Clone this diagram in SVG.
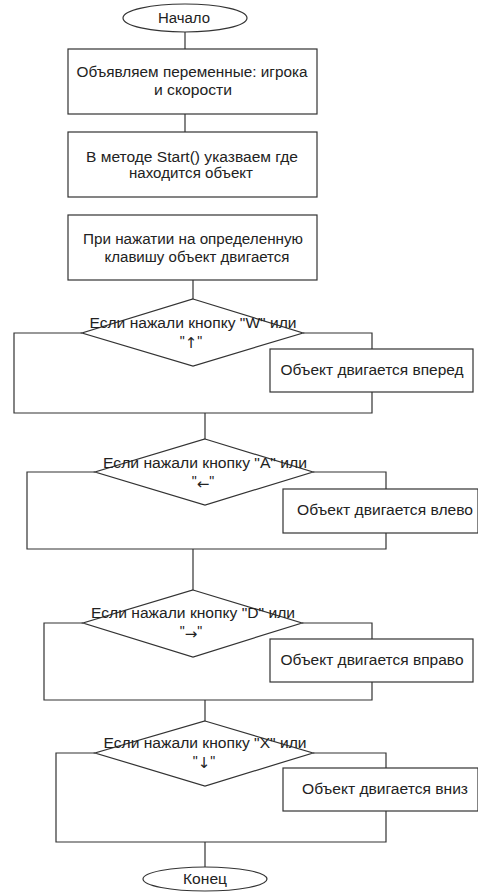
<svg xmlns="http://www.w3.org/2000/svg" width="478" height="892" viewBox="0 0 478 892">
<style>
.s{fill:#fff;stroke:#333;stroke-width:1.2}
.c{fill:none;stroke:#333;stroke-width:1.2}
text{font-family:"Liberation Sans",Arial,sans-serif;font-size:14px;fill:#222;text-anchor:middle}
.ar{font-family:"DejaVu Sans",sans-serif;font-size:15px}
</style>
<rect width="478" height="892" fill="#fff"/>
<g id="connectors">
<path class="c" d="M185 32V49"/>
<path class="c" d="M185 114V132"/>
<path class="c" d="M193 280V299"/>
<path class="c" d="M82 333H14V413H372V392 M303 333H372V349"/>
<path class="c" d="M205 413V439"/>
<path class="c" d="M95 472H27V549H386V533 M313 472H386V489"/>
<path class="c" d="M193 549V590"/>
<path class="c" d="M83 623H44V700H372V682 M302 623H372V639"/>
<path class="c" d="M205 700V721"/>
<path class="c" d="M95 753H56V842H386V811 M313 753H386V768"/>
<path class="c" d="M205 842V867"/>
</g>
<g id="start">
<ellipse class="s" cx="185" cy="18" rx="62" ry="14"/>
<text x="184" y="23" textLength="52" lengthAdjust="spacingAndGlyphs">Начало</text>
</g>
<g id="box1">
<rect class="s" x="68" y="49" width="249" height="65"/>
<text x="192" y="77" textLength="231" lengthAdjust="spacingAndGlyphs">Объявляем переменные: игрока</text>
<text x="193" y="95" textLength="78" lengthAdjust="spacingAndGlyphs">и скорости</text>
</g>
<g id="box2">
<rect class="s" x="68" y="132" width="249" height="65"/>
<text x="192" y="162" textLength="212" lengthAdjust="spacingAndGlyphs">В методе Start() указваем где</text>
<text x="191" y="178" textLength="124" lengthAdjust="spacingAndGlyphs">находится объект</text>
</g>
<g id="box3">
<rect class="s" x="68" y="215" width="249" height="65"/>
<text x="193" y="244" textLength="220" lengthAdjust="spacingAndGlyphs">При нажатии на определенную</text>
<text x="197" y="262" textLength="185" lengthAdjust="spacingAndGlyphs">клавишу объект двигается</text>
</g>
<g id="dW">
<polygon class="s" points="193,299 303,333 193,366 82,333"/>
<text x="193" y="328" textLength="207" lengthAdjust="spacingAndGlyphs">Если нажали кнопку "W" или</text>
<text x="191" y="346">"<tspan class="ar" dy="2">↑</tspan><tspan dy="-2">"</tspan></text>
</g>
<g id="bW">
<rect class="s" x="270" y="349" width="203" height="43"/>
<text x="372" y="375" textLength="183" lengthAdjust="spacingAndGlyphs">Объект двигается вперед</text>
</g>
<g id="dA">
<polygon class="s" points="205,439 313,472 205,505 95,472"/>
<text x="205" y="468" textLength="204" lengthAdjust="spacingAndGlyphs">Если нажали кнопку "A" или</text>
<text x="203" y="486">"<tspan class="ar" dy="3">←</tspan><tspan dy="-3">"</tspan></text>
</g>
<g id="bA">
<rect class="s" x="283" y="489" width="195" height="44"/>
<text x="385" y="515" textLength="176" lengthAdjust="spacingAndGlyphs">Объект двигается влево</text>
</g>
<g id="dD">
<polygon class="s" points="193,590 302,623 193,657 83,623"/>
<text x="191" y="636">"<tspan class="ar" dy="3">→</tspan><tspan dy="-3">"</tspan></text>
<text x="193" y="618" textLength="204" lengthAdjust="spacingAndGlyphs">Если нажали кнопку "D" или</text>
</g>
<g id="bD">
<rect class="s" x="270" y="639" width="203" height="43"/>
<text x="372" y="665" textLength="183" lengthAdjust="spacingAndGlyphs">Объект двигается вправо</text>
</g>
<g id="dX">
<polygon class="s" points="205,721 313,753 205,786 95,753"/>
<text x="205" y="748" textLength="203" lengthAdjust="spacingAndGlyphs">Если нажали кнопку "X" или</text>
<text x="204" y="766">"<tspan class="ar" dy="2">↓</tspan><tspan dy="-2">"</tspan></text>
</g>
<g id="bX">
<rect class="s" x="283" y="768" width="195" height="43"/>
<text x="385" y="794" textLength="166" lengthAdjust="spacingAndGlyphs">Объект двигается вниз</text>
</g>
<g id="end">
<ellipse class="s" cx="205" cy="879" rx="62" ry="12"/>
<text x="205" y="884" textLength="44" lengthAdjust="spacingAndGlyphs">Конец</text>
</g>
</svg>
